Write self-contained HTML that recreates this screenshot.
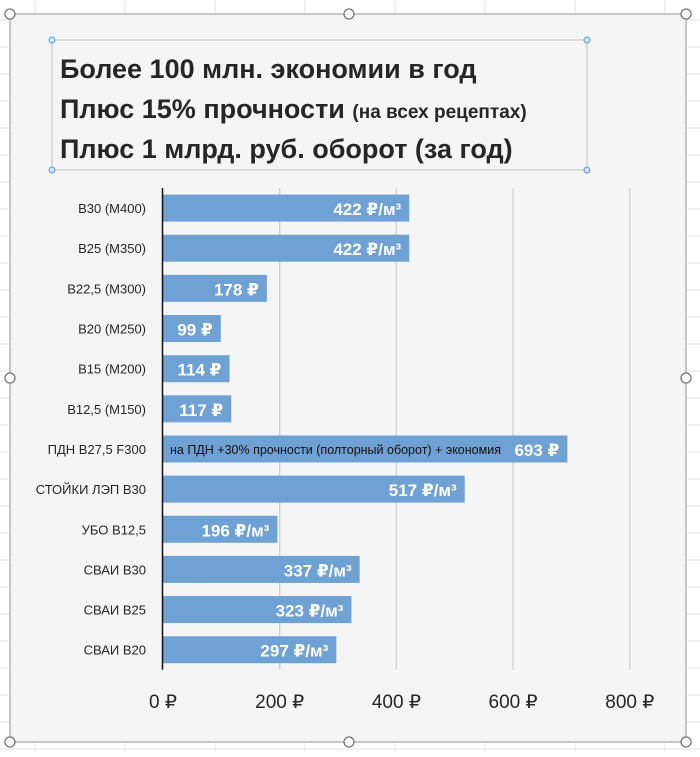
<!DOCTYPE html>
<html><head><meta charset="utf-8"><style>
body{margin:0;width:700px;height:752px;background:#fff;position:relative;overflow:hidden;font-family:"Liberation Sans","DejaVu Sans",sans-serif}
</style></head><body>
<svg width="700" height="752" xmlns="http://www.w3.org/2000/svg">
<g id="sheet"></g>
<rect x="10" y="14" width="676" height="728" fill="#f5f5f5" stroke="#a6a6a6" stroke-width="1.2"/>
<rect x="52" y="40" width="535" height="130" fill="none" stroke="#bfbfbf" stroke-width="1"/>
<g font-weight="bold" fill="#262626" font-size="27">
<text x="60" y="78">Более 100 млн. экономии в год</text>
<text x="60" y="118">Плюс 15% прочности <tspan font-size="19">(на всех рецептах)</tspan></text>
<text x="60" y="158">Плюс 1 млрд. руб. оборот (за год)</text>
</g>
<g id="grid"></g>
<g id="bars"></g>
<g id="handles"></g>
</svg>
<script>
const categories=["B30 (M400)","B25 (M350)","B22,5 (M300)","B20 (M250)","B15 (M200)","B12,5 (M150)","ПДН B27,5 F300","СТОЙКИ ЛЭП B30","УБО B12,5","СВАИ B30","СВАИ B25","СВАИ B20"];
const values=[422,422,178,99,114,117,693,517,196,337,323,297];
const valueLabels=["422 ₽/м³","422 ₽/м³","178 ₽","99 ₽","114 ₽","117 ₽","693 ₽","517 ₽/м³","196 ₽/м³","337 ₽/м³","323 ₽/м³","297 ₽/м³"];
const ticks=[0,200,400,600,800];
const tickLabels=["0 ₽","200 ₽","400 ₽","600 ₽","800 ₽"];
const NS="http://www.w3.org/2000/svg";
const x0=163,scale=0.5835,top0=188,rowH=40.15;
const X=v=>x0+v*scale;
function mk(t,a,p){const e=document.createElementNS(NS,t);for(const k in a)e.setAttribute(k,a[k]);p.appendChild(e);return e;}
const sheet=document.getElementById('sheet');
for(let x=35;x<700;x+=90){const l=mk('line',{x1:x,y1:0,x2:x,y2:752,stroke:'#e3e3e3'},sheet);}
for(let y=20;y<752;y+=27){const l=mk('line',{x1:0,y1:y,x2:700,y2:y,stroke:'#e3e3e3'},sheet);}
const grid=document.getElementById('grid');
ticks.forEach((t,i)=>{
 if(i>0){const g=mk('line',{x1:X(t),y1:top0,x2:X(t),y2:top0+rowH*12,stroke:'#d0d0d0','stroke-width':1.3},grid);
 }
 const tx=mk('text',{x:X(t),y:708,'text-anchor':'middle','font-size':19,fill:'#262626'},grid);tx.textContent=tickLabels[i];
 
});
const bars=document.getElementById('bars');
categories.forEach((c,i)=>{
 const cy=top0+rowH*(i+0.5);
 const r=mk('rect',{x:x0,y:cy-13.5,width:X(values[i])-x0,height:27,fill:'#6fa1d4'},bars);
 
 const l=mk('text',{x:146,y:cy+5,'text-anchor':'end','font-size':13,fill:'#262626'},bars);l.textContent=c;
 
 const v=mk('text',{x:X(values[i])-8,y:cy+7,'text-anchor':'end','font-size':17,'font-weight':'bold',fill:'#fff'},bars);v.textContent=valueLabels[i];
 
 if(i===6){const n=mk('text',{x:170,y:cy+5,'font-size':12.5,fill:'#111'},bars);n.textContent="на ПДН +30% прочности (полторный оборот) + экономия";
 }
});
const ax=mk('line',{x1:x0-0.5,y1:top0,x2:x0-0.5,y2:top0+rowH*12,stroke:'#111','stroke-width':1.5},bars);

const hs=document.getElementById('handles');
[[10,14],[349,14],[686,14],[10,378],[686,378],[10,742],[349,742],[686,742]].forEach(p=>{
 const h=mk('circle',{cx:p[0],cy:p[1],r:5,fill:'#fff',stroke:'#777','stroke-width':1.3},hs);
 });
[[52,40],[587,40],[52,170],[587,170]].forEach(p=>{
 const h=mk('circle',{cx:p[0],cy:p[1],r:3,fill:'#cfe2f7',stroke:'#5b9bd5','stroke-width':1},hs);
 });
</script>
</body></html>
